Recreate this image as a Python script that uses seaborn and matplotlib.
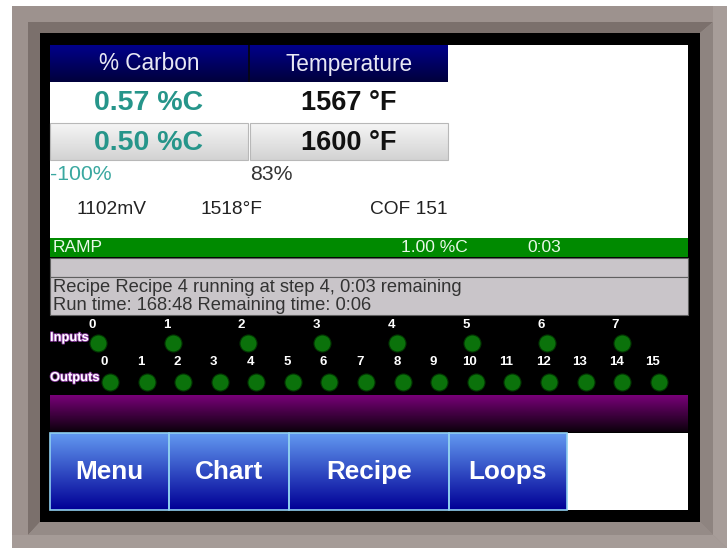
import numpy as np
import pandas as pd
import matplotlib
matplotlib.use("Agg")
import matplotlib.pyplot as plt
import seaborn as sns
from matplotlib.patches import Rectangle, Polygon
from matplotlib import patheffects as pe

# ---- values shown on the panel ----
headers = ["% Carbon", "Temperature"]
pv_values = ["0.57 %C", "1567 °F"]
sp_values = ["0.50 %C", "1600 °F"]
outputs_pct = ["-100%", "83%"]
probe_readings = ["1102mV", "1518°F", "COF 151"]
step_info = ["RAMP", "1.00 %C", "0:03"]
recipe_lines = ["Recipe Recipe 4 running at step 4, 0:03 remaining",
                "Run time: 168:48 Remaining time: 0:06"]
input_channels = list(range(8))
input_states = [1] * 8
output_channels = list(range(16))
output_states = [1] * 16
buttons = ["Menu", "Chart", "Recipe", "Loops"]

W, H = 727, 548
sns.set_theme(style="white")
plt.rcParams["font.family"] = ["Liberation Sans", "DejaVu Sans"]

fig = plt.figure(figsize=(W / 100, H / 100), dpi=100)
ax = fig.add_axes([0, 0, 1, 1])
ax.set_xlim(0, W)
ax.set_ylim(H, 0)
ax.axis("off")


def grad(x0, y0, x1, y1, top, bottom, z=1):
    c0 = np.array(matplotlib.colors.to_rgb(top))
    c1 = np.array(matplotlib.colors.to_rgb(bottom))
    t = np.linspace(0, 1, 64)[:, None, None]
    img = c0 * (1 - t) + c1 * t
    ax.imshow(img, extent=(x0, x1, y1, y0), origin="upper", aspect="auto",
              interpolation="bilinear", zorder=z)


def rect(x0, y0, x1, y1, fc, ec="none", lw=0, z=1):
    ax.add_patch(Rectangle((x0, y0), x1 - x0, y1 - y0, fc=fc, ec=ec, lw=lw, zorder=z))


def poly(pts, fc, z=0.5):
    ax.add_patch(Polygon(pts, fc=fc, ec="none", lw=0, zorder=z))


# ---- bezel ----
poly([(12, 6), (W, 6), (W, H), (12, H)], "#9d928e", z=0)
poly([(28, 22), (713, 22), (700, 33), (40, 33), (40, 522), (28, 535)], "#7b706c")
poly([(713, 22), (713, 535), (700, 522), (700, 33)], "#8e8480")
poly([(28, 535), (713, 535), (700, 522), (40, 522)], "#958b87")
poly([(713, 6), (W, 6), (W, H), (713, 535)], "#a79d99")
poly([(12, 535), (713, 535), (W, H), (12, H)], "#a59b97")
rect(40, 33, 700, 522, "black", z=0.8)
rect(50, 45, 688, 238, "white", z=0.9)

# ---- header + values ----
cols = [(50, 248), (250, 448)]
rect(50, 45, 448, 82, "#05051a", z=0.95)
for (x0, x1), h in zip(cols, headers):
    grad(x0, 45, x1, 82, "#00008a", "#00003c")
    ax.text((x0 + x1) / 2, 64, h, color="#e8e8f4", fontsize=16.3, ha="center", va="center", zorder=3)

val_colors = ["#26958a", "#111111"]
val_sizes = [20.5, 19.5]
for (x0, x1), v, c, fs in zip(cols, pv_values, val_colors, val_sizes):
    ax.text((x0 + x1) / 2, 103, v, color=c, fontsize=fs, fontweight="bold",
            ha="center", va="center", zorder=3)
for (x0, x1), v, c, fs in zip(cols, sp_values, val_colors, val_sizes):
    grad(x0, 123, x1, 160, "#f6f6f6", "#d2d2d2", z=1)
    rect(x0, 123, x1, 160, "none", ec="#b8b8b8", lw=0.8, z=2)
    ax.text((x0 + x1) / 2, 143, v, color=c, fontsize=fs, fontweight="bold",
            ha="center", va="center", zorder=3)

ax.text(50, 174, outputs_pct[0], color="#3aa8a0", fontsize=15.3, ha="left", va="center", zorder=3)
ax.text(250, 174, outputs_pct[1], color="#333333", fontsize=15.3, ha="left", va="center", zorder=3)
for x, s in zip([76, 200, 370], probe_readings):
    ax.text(x, 210, s, color="#222222", fontsize=13.8, ha="left", va="center", zorder=3)

# ---- step / recipe bars ----
rect(50, 238, 688, 257, "#008a00", z=1)
for x, s in zip([53, 401, 527], step_info):
    ax.text(x, 247.5, s, color="#e8f8e8", fontsize=12.5, ha="left", va="center", zorder=3)
rect(50, 258, 688, 277, "#c9c5c9", ec="#606060", lw=0.8, z=1)
rect(50, 277, 688, 315, "#c9c5c9", ec="#606060", lw=0.8, z=1)
for y, s in zip([288, 306], recipe_lines):
    ax.text(53, y, s, color="#333333", fontsize=13.2, ha="left", va="center", zorder=3)

# ---- digital I/O ----
label_fx = [pe.withStroke(linewidth=1.2, foreground="#8a3aa0")]
ax.text(50, 338, "Inputs", color="white", fontsize=9.3, fontweight="bold",
        ha="left", va="center", zorder=3, path_effects=label_fx)
ax.text(50, 378, "Outputs", color="white", fontsize=9.3, fontweight="bold",
        ha="left", va="center", zorder=3, path_effects=label_fx)

io_rows = [
    (pd.DataFrame({"ch": input_channels, "on": input_states}), 98, 621.6, 318, 352),
    (pd.DataFrame({"ch": output_channels, "on": output_states}), 110, 658.7, 354, 392),
]
for df, first, last, ytop, ybot in io_rows:
    n = len(df)
    step = (last - first) / (n - 1)
    x0 = first - step / 2
    wid = step * n
    iax = fig.add_axes([x0 / W, 1 - ybot / H, wid / W, (ybot - ytop) / H])
    iax.set_xlim(-0.5, n - 0.5)
    iax.set_ylim(1, 0)
    iax.axis("off")
    iax.patch.set_alpha(0)
    df["y"] = 0.74
    sns.scatterplot(data=df, x="ch", y="y", ax=iax, s=150, color="#0b720b",
                    edgecolor="#023602", linewidth=0.8, legend=False, zorder=3)
    for c in df["ch"]:
        iax.text(c - 0.08 * (n // 8), 0.2, str(c), color="white", fontsize=9.5,
                 fontweight="bold", ha="center", va="center")

# ---- purple bar + buttons ----
grad(50, 395, 688, 432, "#780078", "#0c000c")
rect(50, 433, 688, 510, "white", z=0.9)
edges = [50, 169, 289, 449, 567]
for i, b in enumerate(buttons):
    x0, x1 = edges[i], edges[i + 1]
    grad(x0, 433, x1, 510, "#6298f0", "#000096")
    rect(x0, 433, x1, 510, "none", ec="#8fcff0", lw=1.2, z=2)
    ax.text((x0 + x1) / 2, 472, b, color="white", fontsize=18.8, fontweight="bold",
            ha="center", va="center", zorder=3)

ax.set_xlim(0, W)
ax.set_ylim(H, 0)
fig.savefig("out.png", dpi=100)
